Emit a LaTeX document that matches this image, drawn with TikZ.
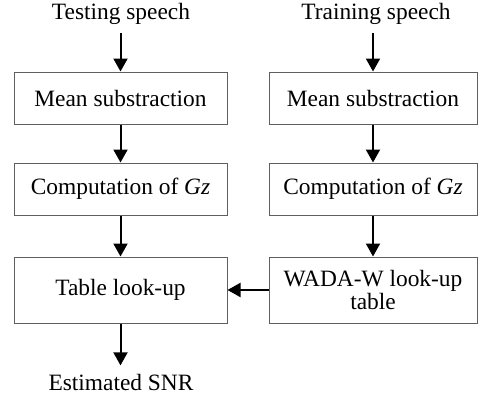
\documentclass[tikz,border=0pt]{standalone}
\usepackage{fontspec}
\setmainfont{Liberation Serif}
\usetikzlibrary{arrows.meta,positioning}
\definecolor{boxline}{RGB}{95,95,95}
\tikzset{
  procbox/.style={draw=boxline,line width=0.5pt,inner sep=0pt,align=center,
    font=\fontsize{11.7}{10.6}\selectfont},
  plain/.style={inner sep=0pt,font=\fontsize{11.7}{10.6}\selectfont},
  flow/.style={line width=1pt,-{Triangle[length=6.5pt,width=7pt]}}
}
\begin{document}
\begin{tikzpicture}[x=0.5pt,y=-0.5pt]
  \useasboundingbox (0,0) rectangle (478,396);
  % testing branch
  \node[plain] (test) at (121,14) {Testing speech};
  \node[procbox,minimum width=106.5pt,minimum height=26pt] (meanL) at (120.5,98) {Mean substraction};
  \node[procbox,minimum width=106.5pt,minimum height=26pt] (gzL) at (120.5,189) {Computation of \textit{Gz}};
  \node[procbox,minimum width=106.5pt,minimum height=33pt] (look) at (120.5,290) {Table look-up};
  \node[plain] (snr) at (121,382) {Estimated SNR};
  % training branch
  \node[plain] (train) at (376,14) {Training speech};
  \node[procbox,minimum width=104pt,minimum height=26pt] (meanR) at (373,98) {Mean substraction};
  \node[procbox,minimum width=104pt,minimum height=26pt] (gzR) at (373,189) {Computation of \textit{Gz}};
  \node[procbox,minimum width=104pt,minimum height=33pt] (wada) at (373,290) {WADA-W look-up\\table};
  % connectors
  \draw[flow,shorten <=4pt] (test.south -| meanL.north) -- (meanL.north);
  \draw[flow] (meanL) -- (gzL);
  \draw[flow] (gzL) -- (look);
  \draw[flow,shorten >=4pt] (look) -- (snr.north -| look.south);
  \draw[flow,shorten <=4pt] (train.south -| meanR.north) -- (meanR.north);
  \draw[flow] (meanR) -- (gzR);
  \draw[flow] (gzR) -- (wada);
  \draw[flow] (wada) -- (look);
\end{tikzpicture}
\end{document}
